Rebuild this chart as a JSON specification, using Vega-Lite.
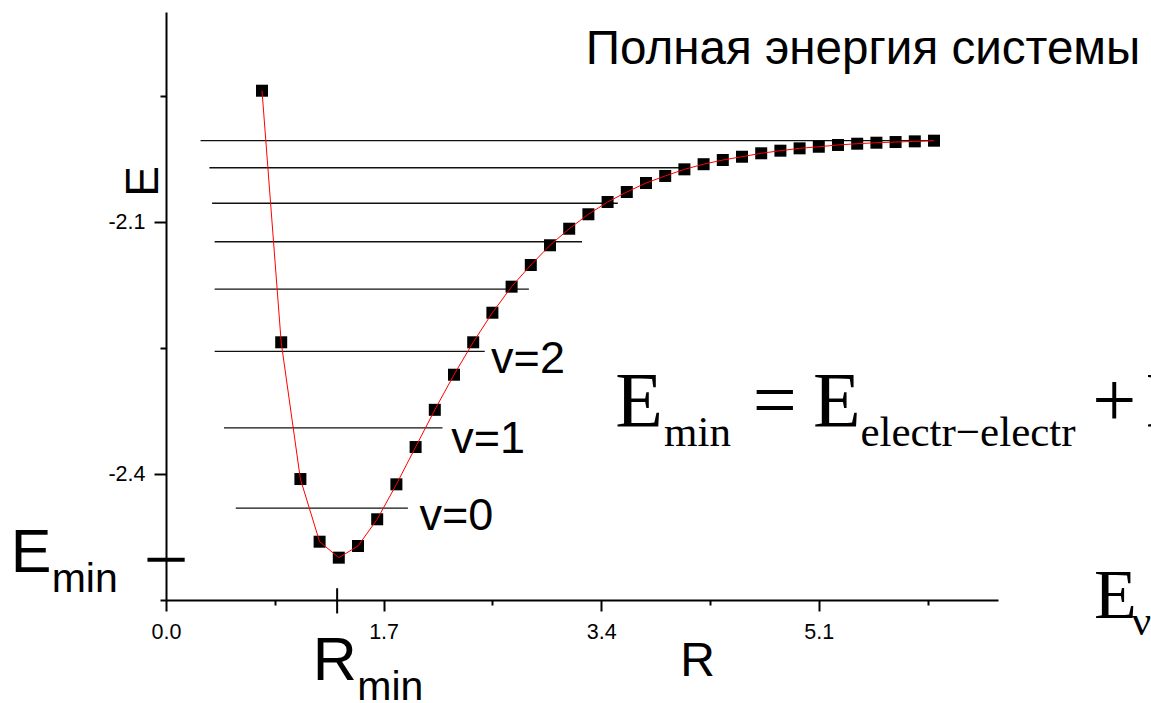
{
  "$schema": "https://vega.github.io/schema/vega-lite/v6.json",
  "width": 832,
  "height": 588,
  "autosize": {"type": "none"},
  "padding": {"left": 166, "top": 12, "right": 153, "bottom": 103},
  "background": "white",
  "config": {"view": {"stroke": null}, "font": "Liberation Sans"},
  "datasets": {
    "energy": [
      {"R": 0.75, "E": -1.9437}, {"R": 0.9, "E": -2.2432}, {"R": 1.05, "E": -2.406},
      {"R": 1.2, "E": -2.4806}, {"R": 1.35, "E": -2.4996}, {"R": 1.5, "E": -2.4857},
      {"R": 1.65, "E": -2.4539}, {"R": 1.8, "E": -2.4123}, {"R": 1.95, "E": -2.3679},
      {"R": 2.1, "E": -2.3236}, {"R": 2.25, "E": -2.2818}, {"R": 2.4, "E": -2.2432},
      {"R": 2.55, "E": -2.208}, {"R": 2.7, "E": -2.177}, {"R": 2.85, "E": -2.1512},
      {"R": 3.0, "E": -2.1277}, {"R": 3.15, "E": -2.108}, {"R": 3.3, "E": -2.0908},
      {"R": 3.45, "E": -2.0762}, {"R": 3.6, "E": -2.0643}, {"R": 3.75, "E": -2.0536},
      {"R": 3.9, "E": -2.0452}, {"R": 4.05, "E": -2.0373}, {"R": 4.2, "E": -2.0312},
      {"R": 4.35, "E": -2.0262}, {"R": 4.5, "E": -2.0223}, {"R": 4.65, "E": -2.0182},
      {"R": 4.8, "E": -2.0151}, {"R": 4.95, "E": -2.0123}, {"R": 5.1, "E": -2.0104},
      {"R": 5.25, "E": -2.0083}, {"R": 5.4, "E": -2.0068}, {"R": 5.55, "E": -2.0056},
      {"R": 5.7, "E": -2.0048}, {"R": 5.85, "E": -2.004}, {"R": 6.0, "E": -2.0032}
    ],
    "levels": [
      {"level": 0, "E": -2.4407, "R1": 0.545, "R2": 1.89},
      {"level": 1, "E": -2.3452, "R1": 0.453, "R2": 2.16},
      {"level": 2, "E": -2.2539, "R1": 0.38, "R2": 2.49},
      {"level": 3, "E": -2.1798, "R1": 0.38, "R2": 2.835},
      {"level": 4, "E": -2.1235, "R1": 0.38, "R2": 3.25},
      {"level": 5, "E": -2.0777, "R1": 0.36, "R2": 3.53},
      {"level": 6, "E": -2.0354, "R1": 0.339, "R2": 4.06},
      {"level": 7, "E": -2.0032, "R1": 0.27, "R2": 6.0}
    ],
    "levelLabels": [
      {"R": 2.54, "E": -2.2798, "label": "v=2"},
      {"R": 2.229, "E": -2.3746, "label": "v=1"},
      {"R": 1.981, "E": -2.4667, "label": "v=0"}
    ],
    "heading": [
      {"R": 3.28, "E": -1.9119, "label": "Полная энергия системы"}
    ],
    "bigLetters": [
      {"R": -1.213, "E": -2.5163, "label": "E"},
      {"R": 1.146, "E": -2.6452, "label": "R"}
    ],
    "smallSubs": [
      {"R": -0.893, "E": -2.5401, "label": "min"},
      {"R": 1.495, "E": -2.669, "label": "min"}
    ],
    "formulaMain": [
      {"R": 3.509, "E": -2.3432, "label": "E"},
      {"R": 4.584, "E": -2.3432, "label": "="},
      {"R": 5.055, "E": -2.3432, "label": "E"},
      {"R": 7.236, "E": -2.3432, "label": "+"},
      {"R": 7.654, "E": -2.3432, "label": "E"}
    ],
    "formulaSubs": [
      {"R": 3.891, "E": -2.3669, "label": "min"},
      {"R": 5.425, "E": -2.3669, "label": "electr−electr"}
    ],
    "vibMain": [{"R": 7.25, "E": -2.572, "label": "E"}],
    "vibSub": [{"R": 7.545, "E": -2.5917, "label": "ν"}],
    "rMinTick": [{"R": 1.337, "E1": -2.536, "E2": -2.566}],
    "eMinTick": [{"R1": -0.145, "R2": 0.146, "E": -2.502}]
  },
  "layer": [
    {
      "data": {"name": "levels"},
      "mark": {"type": "rule", "color": "#111111", "strokeWidth": 1.3},
      "encoding": {
        "x": {
          "field": "R1", "type": "quantitative",
          "scale": {"domain": [0, 6.5], "nice": false, "zero": false},
          "axis": {
            "values": [0, 0.85, 1.7, 2.55, 3.4, 4.25, 5.1, 5.95],
            "labelExpr": "indexof([0, 1.7, 3.4, 5.1], datum.value) >= 0 ? format(datum.value, '.1f') : ''",
            "tickSize": {"condition": {"test": "indexof([0, 1.7, 3.4, 5.1], datum.value) >= 0", "value": 11}, "value": 5},
            "tickWidth": 2, "tickColor": "black",
            "domainColor": "black", "domainWidth": 2,
            "labelFont": "Liberation Sans", "labelFontSize": 21.5, "labelColor": "black",
            "labelPadding": 10, "labelFlush": false, "labelOverlap": false,
            "grid": false,
            "title": "R", "titleFont": "Liberation Sans", "titleFontSize": 48,
            "titleFontWeight": "normal", "titleColor": "black",
            "titleX": 531, "titleY": 75, "titleBaseline": "alphabetic", "titleAlign": "center"
          }
        },
        "x2": {"field": "R2"},
        "y": {
          "field": "E", "type": "quantitative",
          "scale": {"domain": [-2.55, -1.85], "nice": false, "zero": false},
          "axis": {
            "values": [-1.95, -2.1, -2.25, -2.4, -2.55],
            "labelExpr": "datum.value == -2.1 ? '-2.1' : datum.value == -2.4 ? '-2.4' : ''",
            "tickSize": {"condition": {"test": "datum.value == -2.1 || datum.value == -2.4", "value": 12}, "value": 6},
            "tickWidth": 2, "tickColor": "black",
            "domainColor": "black", "domainWidth": 2,
            "labelFont": "Liberation Sans", "labelFontSize": 21.5, "labelColor": "black",
            "labelPadding": 9, "labelFlush": false, "labelOverlap": false,
            "grid": false,
            "title": "E", "titleFont": "Liberation Sans", "titleFontSize": 46,
            "titleFontWeight": "normal", "titleColor": "black",
            "titleX": -9, "titleY": 169, "titleAngle": 270,
            "titleBaseline": "alphabetic", "titleAlign": "center"
          }
        }
      }
    },
    {
      "data": {"name": "energy"},
      "mark": {"type": "point", "shape": "square", "filled": true, "color": "black", "opacity": 1, "size": 144},
      "encoding": {
        "x": {"field": "R", "type": "quantitative"},
        "y": {"field": "E", "type": "quantitative"}
      }
    },
    {
      "data": {"name": "energy"},
      "mark": {"type": "line", "color": "#ff0000", "strokeWidth": 1},
      "encoding": {
        "x": {"field": "R", "type": "quantitative"},
        "y": {"field": "E", "type": "quantitative"}
      }
    },
    {
      "data": {"name": "rMinTick"},
      "mark": {"type": "rule", "color": "black", "strokeWidth": 2, "clip": false},
      "encoding": {
        "x": {"field": "R", "type": "quantitative"},
        "y": {"field": "E1", "type": "quantitative"},
        "y2": {"field": "E2"}
      }
    },
    {
      "data": {"name": "eMinTick"},
      "mark": {"type": "rule", "color": "black", "strokeWidth": 4, "clip": false},
      "encoding": {
        "x": {"field": "R1", "type": "quantitative"},
        "x2": {"field": "R2"},
        "y": {"field": "E", "type": "quantitative"}
      }
    },
    {
      "data": {"name": "levelLabels"},
      "mark": {"type": "text", "align": "left", "baseline": "alphabetic", "font": "Liberation Sans", "fontSize": 45, "color": "black", "clip": false},
      "encoding": {
        "x": {"field": "R", "type": "quantitative"},
        "y": {"field": "E", "type": "quantitative"},
        "text": {"field": "label"}
      }
    },
    {
      "data": {"name": "heading"},
      "mark": {"type": "text", "align": "left", "baseline": "alphabetic", "font": "Liberation Sans", "fontSize": 47.6, "color": "black", "clip": false},
      "encoding": {
        "x": {"field": "R", "type": "quantitative"},
        "y": {"field": "E", "type": "quantitative"},
        "text": {"field": "label"}
      }
    },
    {
      "data": {"name": "bigLetters"},
      "mark": {"type": "text", "align": "left", "baseline": "alphabetic", "font": "Liberation Sans", "fontSize": 61, "color": "black", "clip": false},
      "encoding": {
        "x": {"field": "R", "type": "quantitative"},
        "y": {"field": "E", "type": "quantitative"},
        "text": {"field": "label"}
      }
    },
    {
      "data": {"name": "smallSubs"},
      "mark": {"type": "text", "align": "left", "baseline": "alphabetic", "font": "Liberation Sans", "fontSize": 41, "color": "black", "clip": false},
      "encoding": {
        "x": {"field": "R", "type": "quantitative"},
        "y": {"field": "E", "type": "quantitative"},
        "text": {"field": "label"}
      }
    },
    {
      "data": {"name": "formulaMain"},
      "mark": {"type": "text", "align": "left", "baseline": "alphabetic", "font": "Liberation Serif", "fontSize": 78, "color": "black", "clip": false},
      "encoding": {
        "x": {"field": "R", "type": "quantitative"},
        "y": {"field": "E", "type": "quantitative"},
        "text": {"field": "label"}
      }
    },
    {
      "data": {"name": "formulaSubs"},
      "mark": {"type": "text", "align": "left", "baseline": "alphabetic", "font": "Liberation Serif", "fontSize": 43, "color": "black", "clip": false},
      "encoding": {
        "x": {"field": "R", "type": "quantitative"},
        "y": {"field": "E", "type": "quantitative"},
        "text": {"field": "label"}
      }
    },
    {
      "data": {"name": "vibMain"},
      "mark": {"type": "text", "align": "left", "baseline": "alphabetic", "font": "Liberation Serif", "fontSize": 70, "color": "black", "clip": false},
      "encoding": {
        "x": {"field": "R", "type": "quantitative"},
        "y": {"field": "E", "type": "quantitative"},
        "text": {"field": "label"}
      }
    },
    {
      "data": {"name": "vibSub"},
      "mark": {"type": "text", "align": "left", "baseline": "alphabetic", "font": "Liberation Serif", "fontSize": 43, "color": "black", "clip": false},
      "encoding": {
        "x": {"field": "R", "type": "quantitative"},
        "y": {"field": "E", "type": "quantitative"},
        "text": {"field": "label"}
      }
    }
  ]
}
